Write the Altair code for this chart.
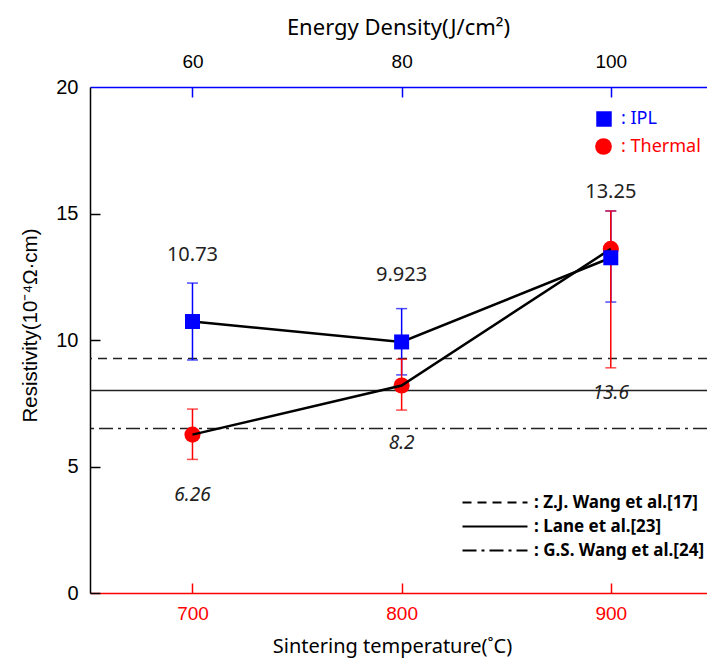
import altair as alt
import pandas as pd

# ---------------- data ----------------
temps = [700, 800, 900]
ipl_vals = [10.73, 9.923, 13.25]
ipl_low = [9.21, 8.62, 11.5]
ipl_high = [12.25, 11.24, 15.1]
ipl_text = ["10.73", "9.923", "13.25"]
ipl_text_at = [13.36, 12.57, 15.85]

th_vals = [6.26, 8.2, 13.6]
th_low = [5.28, 7.23, 8.9]
th_high = [7.27, 9.24, 15.1]
th_text = ["6.26", "8.2", "13.6"]
th_text_at = [3.87, 5.93, 7.9]

ref_names = [": Z.J. Wang et al.[17]", ": Lane et al.[23]", ": G.S. Wang et al.[24]"]
ref_values = [9.27, 8.0, 6.5]

x_ticks = [700, 800, 900]
y_ticks = [0, 5, 10, 15, 20]

BLUE = "#0000ff"
RED = "#ff0000"

ipl_df = pd.DataFrame({"temp": temps, "val": ipl_vals, "low": ipl_low, "high": ipl_high,
                       "txt": ipl_text, "txt_at": ipl_text_at, "series": ": IPL"})
th_df = pd.DataFrame({"temp": temps, "val": th_vals, "low": th_low, "high": th_high,
                      "txt": th_text, "txt_at": th_text_at, "series": ": Thermal"})
ref_df = pd.DataFrame({"name": ref_names, "val": ref_values})

xs = alt.Scale(domain=[651, 946], nice=False, zero=False)
ys = alt.Scale(domain=[0, 20], nice=False, zero=False)

common = dict(grid=False, labelFlush=False, labelOverlap=False, labelBound=False)

ax_bottom = alt.Axis(orient="bottom", values=x_ticks, ticks=False, domainColor=RED, domainWidth=1.5,
                     labelColor=RED, labelFont="Liberation Sans", labelFontSize=19, labelPadding=11,
                     title="Sintering temperature(˚C)", titleFont="Noto Sans", titleFontSize=20,
                     titleFontWeight="normal", titleColor="black", titleX=302, titleY=53,
                     titleBaseline="middle", **common)
ax_bottom_ticks = alt.Axis(orient="bottom", values=x_ticks, offset=-10, tickSize=10, tickColor=RED,
                           tickWidth=1.5, domain=False, labels=False, title=None, grid=False)
ax_top = alt.Axis(orient="top", values=x_ticks, ticks=False, domainColor=BLUE, domainWidth=1.5,
                  labelColor="black", labelFont="Liberation Sans", labelFontSize=19, labelPadding=16,
                  labelExpr="format((datum.value - 400) / 5, 'd')",
                  title="Energy Density(J/cm²)", titleFont="Noto Sans", titleFontSize=22,
                  titleFontWeight="normal", titleColor="black", titleX=308, titleY=-60,
                  titleBaseline="middle", **common)
ax_top_ticks = alt.Axis(orient="top", values=x_ticks, offset=-10, tickSize=10, tickColor=BLUE,
                        tickWidth=1.5, domain=False, labels=False, title=None, grid=False)
ax_left = alt.Axis(orient="left", values=y_ticks, ticks=False, domainColor="black", domainWidth=1.5,
                   labelColor="black", labelFont="Liberation Sans", labelFontSize=20, labelPadding=12,
                   title="Resistivity(10⁻⁴Ω·cm)", titleFont="Liberation Sans", titleFontSize=20.5,
                   titleFontWeight="normal", titleColor="black", titleX=-60, titleY=238,
                   titleBaseline="middle", **common)
ax_left_ticks = alt.Axis(orient="left", values=[0, 5, 10, 15], offset=-10, tickSize=10,
                         tickColor="black", tickWidth=1.5, domain=False, labels=False,
                         title=None, grid=False)

# reference lines with their legend
refs = alt.Chart(ref_df).mark_rule(color="#222222", strokeWidth=1.5).encode(
    y=alt.Y("val:Q", scale=ys, axis=ax_left),
    strokeDash=alt.StrokeDash(
        "name:N",
        scale=alt.Scale(domain=ref_names, range=[[9, 6], [1, 0], [14, 5, 3, 5]]),
        legend=alt.Legend(orient="none", legendX=424, legendY=407, title=None, padding=0,
                          symbolType="M-12,0H1", symbolSize=100, symbolStrokeColor="black",
                          symbolStrokeWidth=2, labelFont="Noto Sans", labelFontWeight="bold",
                          labelFontSize=17, labelColor="black", labelOffset=3, rowPadding=6,
                          labelLimit=400),
    ),
)

def err_layers(df, color, xaxis=None, yaxis=None):
    rule = alt.Chart(df).mark_rule(color=color, strokeWidth=1.5).encode(
        x=alt.X("temp:Q", scale=xs, axis=xaxis),
        y=alt.Y("low:Q", scale=ys, axis=yaxis),
        y2="high:Q",
    )
    cap_lo = alt.Chart(df).mark_tick(orient="horizontal", color=color, size=11, thickness=1.5).encode(
        x=alt.X("temp:Q", scale=xs, axis=None), y=alt.Y("low:Q", scale=ys, axis=None))
    cap_hi = alt.Chart(df).mark_tick(orient="horizontal", color=color, size=11, thickness=1.5).encode(
        x=alt.X("temp:Q", scale=xs, axis=None), y=alt.Y("high:Q", scale=ys, axis=None))
    return [rule, cap_lo, cap_hi]

ipl_err = err_layers(ipl_df, BLUE, xaxis=ax_bottom_ticks, yaxis=ax_left_ticks)
th_err = err_layers(th_df, RED)

ipl_line = alt.Chart(ipl_df).mark_line(color="black", strokeWidth=2.5).encode(
    x=alt.X("temp:Q", scale=xs, axis=ax_bottom), y=alt.Y("val:Q", scale=ys, axis=None))
th_line = alt.Chart(th_df).mark_line(color="black", strokeWidth=2.5).encode(
    x=alt.X("temp:Q", scale=xs, axis=None), y=alt.Y("val:Q", scale=ys, axis=None))

ipl_pts = alt.Chart(ipl_df).mark_point(filled=True, size=225, opacity=1, color=BLUE).encode(
    x=alt.X("temp:Q", scale=xs, axis=ax_top),
    y=alt.Y("val:Q", scale=ys, axis=None),
    shape=alt.Shape("series:N", scale=alt.Scale(domain=[": IPL"], range=["square"]),
                    legend=alt.Legend(orient="none", legendX=505, legendY=23, title=None, padding=0,
                                      symbolFillColor=BLUE, symbolStrokeColor=BLUE, symbolSize=240,
                                      symbolOpacity=1, labelColor=BLUE, labelFont="Noto Sans",
                                      labelFontSize=18, labelOffset=8)),
)
th_pts = alt.Chart(th_df).mark_point(filled=True, size=260, opacity=1, color=RED).encode(
    x=alt.X("temp:Q", scale=xs, axis=ax_top_ticks),
    y=alt.Y("val:Q", scale=ys, axis=None),
    shape=alt.Shape("series:N", scale=alt.Scale(domain=[": Thermal"], range=["circle"]),
                    legend=alt.Legend(orient="none", legendX=504, legendY=50, title=None, padding=0,
                                      symbolFillColor=RED, symbolStrokeColor=RED, symbolSize=280,
                                      symbolOpacity=1, labelColor=RED, labelFont="Noto Sans",
                                      labelFontSize=18, labelOffset=8)),
)

ipl_txt = alt.Chart(ipl_df).mark_text(font="Noto Sans", fontSize=20, color="#222222").encode(
    x=alt.X("temp:Q", scale=xs, axis=None), y=alt.Y("txt_at:Q", scale=ys, axis=None), text="txt:N")
th_txt = alt.Chart(th_df).mark_text(font="Noto Sans", fontSize=19, fontStyle="italic",
                                    color="#222222").encode(
    x=alt.X("temp:Q", scale=xs, axis=None), y=alt.Y("txt_at:Q", scale=ys, axis=None), text="txt:N")

chart = alt.layer(
    refs, *ipl_err, *th_err, th_pts, ipl_line, th_line, ipl_pts, ipl_txt, th_txt
).resolve_axis(x="independent", y="independent").resolve_scale(shape="independent").properties(
    width=617, height=506,
    padding={"left": 90, "top": 87, "right": 0, "bottom": 68},
    autosize=alt.AutoSizeParams(type="none"),
    background="white",
).configure_view(stroke=None)

chart.save("out.html", embed_options={"renderer": "svg", "actions": False})
